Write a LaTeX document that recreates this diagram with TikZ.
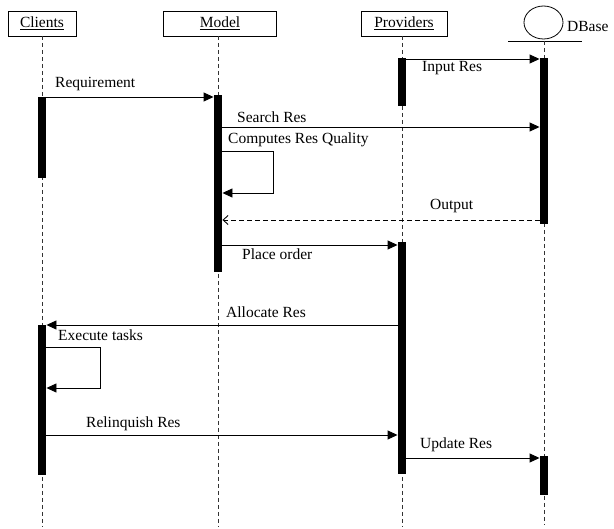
\documentclass[tikz,border=0pt]{standalone}
\usepackage{fontspec}
\setmainfont{Liberation Serif}
\usetikzlibrary{arrows.meta,shapes.geometric}

\begin{document}
\begin{tikzpicture}[x=1pt, y=-1pt,
    every node/.style={font=\fontsize{15.5}{18}\selectfont},
    head/.style={draw, line width=0.8pt, minimum height=25pt, inner sep=0pt},
    life/.style={draw=black!80, line width=1pt, dash pattern=on 4pt off 3pt},
    bar/.style={fill=black, minimum width=8.5pt, inner sep=0pt, anchor=north},
    msg/.style={line width=0.9pt, -{Triangle[length=10pt,width=9pt]}},
    reply/.style={line width=0.9pt, dash pattern=on 5pt off 3pt, -{Straight Barb[length=5pt,width=9pt]}},
    lbl/.style={anchor=west, inner sep=0pt}]
    \useasboundingbox (0,0) rectangle (614,529);

    % heads
    \node[head, minimum width=68pt] (clients) at (42,23.5) {\underline{Clients}};
    \node[head, minimum width=113pt] (model) at (220,23.5) {\underline{Model}};
    \node[head, minimum width=86pt] (providers) at (404,23.5) {\underline{Providers}};
    \node[draw, ellipse, line width=0.8pt, minimum width=39pt, minimum height=33pt, inner sep=0pt] (dbase) at (543.5,22.5) {};
    \draw[line width=0.8pt] (508,41) -- (582,41);
    \node[lbl] (dbname) at (567,27) {DBase};

    % lifelines
    \coordinate (cend) at (42,527);
    \coordinate (mend) at (218,527);
    \coordinate (pend) at (402,527);
    \coordinate (dend) at (544,525);
    \draw[life] (42,36) -- (cend);
    \draw[life] (218,36) -- (mend);
    \draw[life] (402,36) -- (pend);
    \draw[life] (544,41) -- (dend);

    % activations
    \node[bar, minimum height=81pt] (cb1) at (42,97) {};
    \node[bar, minimum height=150pt] (cb2) at (42,325) {};
    \node[bar, minimum height=177pt] (mb1) at (218,95) {};
    \node[bar, minimum height=48pt] (pb1) at (402,58) {};
    \node[bar, minimum height=232pt] (pb2) at (402,242) {};
    \node[bar, minimum height=166pt] (db1) at (544,58) {};
    \node[bar, minimum height=39pt] (db2) at (544,456) {};

    % message levels
    \coordinate (yInput) at (0,59);
    \coordinate (yReq) at (0,97);
    \coordinate (ySearch) at (0,127);
    \coordinate (yComp) at (0,151);
    \coordinate (yCompBack) at (0,193);
    \coordinate (yOut) at (0,220);
    \coordinate (yOrder) at (0,245);
    \coordinate (yAlloc) at (0,325);
    \coordinate (yExec) at (0,347);
    \coordinate (yExecBack) at (0,388);
    \coordinate (yRel) at (0,435);
    \coordinate (yUpd) at (0,458);

    % messages
    \draw[msg] (pb1.east |- yInput) -- (db1.west |- yInput);
    \node[lbl] (linput) at (422,68) {Input Res};

    \draw[msg] (cb1.east |- yReq) -- (mb1.west |- yReq);
    \node[lbl] (lreq) at (55,84) {Requirement};

    \draw[msg] (mb1.east |- ySearch) -- (db1.west |- ySearch);
    \node[lbl] (lsearch) at (237,117) {Search Res};

    \draw[msg] (mb1.east |- yComp) -- (273,151) -- (273,193) -- (mb1.east |- yCompBack);
    \node[lbl] (lcomp) at (228,140) {Computes Res Quality};

    \draw[reply] (db1.west |- yOut) -- (mb1.east |- yOut);
    \node[lbl] (lout) at (430,206) {Output};

    \draw[msg] (mb1.east |- yOrder) -- (pb2.west |- yOrder);
    \node[lbl] (lorder) at (242,254) {Place order};

    \draw[msg] (pb2.west |- yAlloc) -- (cb2.east |- yAlloc);
    \node[lbl] (lalloc) at (226,312) {Allocate Res};

    \draw[msg] (cb2.east |- yExec) -- (100,347) -- (100,388) -- (cb2.east |- yExecBack);
    \node[lbl] (lexec) at (58,335) {Execute tasks};

    \draw[msg] (cb2.east |- yRel) -- (pb2.west |- yRel);
    \node[lbl] (lrel) at (86,424) {Relinquish Res};

    \draw[msg] (pb2.east |- yUpd) -- (db2.west |- yUpd);
    \node[lbl] (lupd) at (420,445) {Update Res};
\end{tikzpicture}
\end{document}
